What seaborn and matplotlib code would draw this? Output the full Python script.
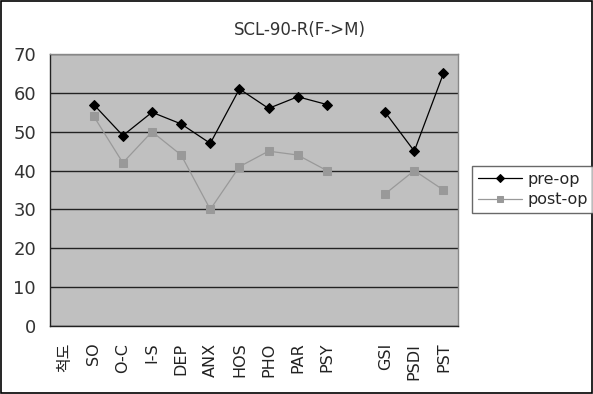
import numpy as np
import pandas as pd
import matplotlib
matplotlib.use("Agg")
import matplotlib.pyplot as plt
import seaborn as sns

categories = ["척도", "SO", "O-C", "I-S", "DEP", "ANX", "HOS", "PHO", "PAR", "PSY", "", "GSI", "PSDI", "PST"]
pre_op = [np.nan, 57, 49, 55, 52, 47, 61, 56, 59, 57, np.nan, 55, 45, 65]
post_op = [np.nan, 54, 42, 50, 44, 30, 41, 45, 44, 40, np.nan, 34, 40, 35]
segment = [0, 0, 0, 0, 0, 0, 0, 0, 0, 0, 1, 1, 1, 1]
y_ticks = [0, 10, 20, 30, 40, 50, 60, 70]
title = "SCL-90-R(F->M)"

sns.set_style("white")
plt.rcParams["font.family"] = ["DejaVu Sans", "Noto Sans CJK KR"]

fig = plt.figure(figsize=(5.93, 3.94), dpi=100)
ax = fig.add_axes([50/593, 68/394, 408/593, 272/394])
ax.set_facecolor("#c0c0c0")

pos = np.arange(len(categories))
df = pd.DataFrame({"x": pos, "pre-op": pre_op, "post-op": post_op, "seg": segment})
df = df.dropna()

sns.lineplot(data=df, x="x", y="pre-op", units="seg", estimator=None, ax=ax,
             color="black", lw=0.9, marker="D", markersize=5.5, markeredgecolor="black",
             zorder=4, legend=False)
sns.lineplot(data=df, x="x", y="post-op", units="seg", estimator=None, ax=ax,
             color="#999999", lw=0.9, marker="s", markersize=6, markeredgecolor="#999999",
             zorder=3, legend=False)

ax.set_xlim(-0.5, len(categories) - 0.5)
ax.set_ylim(0, 70)
ax.set_yticks(y_ticks)
ax.set_yticklabels([str(t) for t in y_ticks], fontsize=13, color="#333333")
ax.yaxis.grid(True, color="#222222", lw=1.0)
ax.set_axisbelow(True)
ax.set_xticks(pos)
ax.set_xticklabels(categories, rotation=90, fontsize=11.5, color="#222222")
ax.set_xticks(np.arange(len(categories) + 1) - 0.5, minor=True)
ax.tick_params(axis="x", which="major", length=0, pad=12)
ax.tick_params(axis="x", which="minor", length=4, direction="in", color="black", width=1)
ax.tick_params(axis="y", length=0, pad=10)
ax.set_xlabel("")
ax.set_ylabel("")
for s in ["top", "right"]:
    ax.spines[s].set_color("#888888")
    ax.spines[s].set_linewidth(1)
for s in ["left", "bottom"]:
    ax.spines[s].set_color("#222222")
    ax.spines[s].set_linewidth(1)

fig.text(300/593, 1 - 30/394, title, ha="center", va="center", fontsize=12, color="#333333")

lines = ax.get_lines()
handles = [lines[0], lines[2]]
leg = fig.legend(handles, ["pre-op", "post-op"], loc="upper left",
                 bbox_to_anchor=(472/593, 1 - 166/394), frameon=True,
                 fontsize=11.5, handlelength=2.8, borderpad=0.35, labelspacing=0.35,
                 handletextpad=0.3, fancybox=False, markerscale=0.8, borderaxespad=0)
leg.get_frame().set_edgecolor("#444444")
leg.get_frame().set_linewidth(1)

fig.patches.append(plt.Rectangle((0.002, 0.002), 0.996, 0.996, transform=fig.transFigure,
                                 fill=False, edgecolor="black", lw=1.2))

fig.savefig("out.png", dpi=100)
